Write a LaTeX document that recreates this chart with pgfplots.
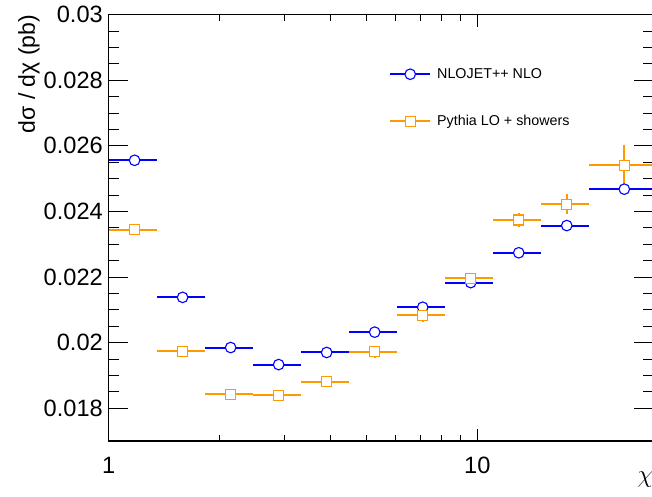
\documentclass[border=0pt]{standalone}
\usepackage{fontspec}
\setmainfont{Liberation Sans}
\usepackage{pgfplots}
\pgfplotsset{compat=1.18}
\usepackage{pgfplotstable}

\definecolor{nloblue}{RGB}{0,0,255}
\definecolor{pyorange}{RGB}{255,153,0}

% dsigma/dchi per chi bin: bin centre, half width, value, stat. error
\pgfplotstableread{
x        ex       y        ey
1.17495  0.17495  0.02556  0
1.5860   0.2361   0.02138  0
2.14085  0.31875  0.01985  0
2.88985  0.43025  0.01933  0
3.9009   0.5808   0.01970  0
5.26565  0.78395  0.02032  0
7.1079   1.0583   0.02108  0
9.5947   1.4285   0.02183  0
12.95145 1.92825  0.02274  0
17.4826  2.6029   0.02357  0
25.04275 4.95725  0.02468  0
}\nlotable

\pgfplotstableread{
x        ex       y        ey
1.17495  0.17495  0.02344  0.0001
1.5860   0.2361   0.01974  0.0001
2.14085  0.31875  0.01843  0.0001
2.88985  0.43025  0.01839  0.0001
3.9009   0.5808   0.01881  0.00015
5.26565  0.78395  0.01972  0.00018
7.1079   1.0583   0.02084  0.0002
9.5947   1.4285   0.02196  0.00015
12.95145 1.92825  0.02374  0.00021
17.4826  2.6029   0.02422  0.00031
25.04275 4.95725  0.02541  0.00063
}\pythiatable

\begin{document}
\begin{tikzpicture}
\useasboundingbox (0,0) rectangle (652pt,496pt);

% y ticks and labels
\begin{axis}[
  at={(108.8pt,55pt)}, anchor=south west,
  scale only axis, width=544.4pt, height=426.3pt,
  xmode=log, xmin=1, xmax=30,
  ymin=0.017, ymax=0.03,
  tick align=inside,
  axis line style={line width=1.1pt},
  every tick/.style={black, line width=1pt},
  xtick=\empty,
  ytick={0.018,0.02,0.022,0.024,0.026,0.028,0.03},
  minor y tick num=3,
  major tick length=19pt, minor tick length=10pt,
  scaled y ticks=false,
  yticklabel style={/pgf/number format/fixed, /pgf/number format/precision=3,
    /pgf/number format/assume math mode=true,
    inner sep=0pt, xshift=-5.8pt, font=\fontsize{23.6}{28}\selectfont},
]
\end{axis}

% data, x ticks, labels and legend
\begin{axis}[
  at={(108.8pt,55pt)}, anchor=south west,
  scale only axis, width=544.4pt, height=426.3pt,
  xmode=log, xmin=1, xmax=30,
  ymin=0.017, ymax=0.03,
  tick align=inside,
  axis line style={line width=1.1pt},
  every tick/.style={black, line width=1pt},
  ytick=\empty,
  xtick={1,10},
  xticklabels={1,10},
  major tick length=12pt, minor tick length=6pt,
  xticklabel style={inner sep=0pt, yshift=-15.7pt,
    font=\fontsize{23.6}{28}\selectfont},
  xlabel={$\chi$},
  xlabel style={at={(rel axis cs:1,0)}, anchor=north east, inner sep=0pt,
    yshift=-31pt, font=\fontsize{26}{30}\selectfont},
  ylabel={dσ / dχ (pb)},
  ylabel style={at={(axis description cs:-0.1356,1)}, anchor=base east,
    inner sep=0pt, font=\fontsize{23}{28}\selectfont},
  legend style={at={(axis description cs:0.5147,0.8743)}, anchor=north west,
    draw=none, fill=none, inner sep=0pt, row sep=35.3pt,
    nodes={inner sep=0pt},
    font=\fontsize{14.3}{17}\selectfont,
    /tikz/every odd column/.append style={column sep=6pt}},
  legend cell align=left,
  legend image code/.code={
    \draw[#1, mark=none] (0pt,0pt) -- (40pt,0pt);
    \draw[#1] plot coordinates {(20pt,0pt)};},
]
\addplot[nloblue, line width=2pt, mark=*, mark size=5.3pt,
  mark options={line width=1.1pt, fill=white},
  only marks,
  error bars/.cd, x dir=both, x explicit, y dir=both, y explicit,
  error mark=none, error bar style={line width=2pt, nloblue}]
  table[x=x, y=y, x error=ex, y error=ey] {\nlotable};
\addlegendentry{NLOJET++ NLO}

\addplot[pyorange, line width=2pt, mark=square*, mark size=5pt,
  mark options={line width=1.1pt, fill=white},
  only marks,
  error bars/.cd, x dir=both, x explicit, y dir=both, y explicit,
  error mark=none, error bar style={line width=2pt, pyorange}]
  table[x=x, y=y, x error=ex, y error=ey] {\pythiatable};
\addlegendentry{Pythia LO + showers}
\end{axis}
\end{tikzpicture}
\end{document}
